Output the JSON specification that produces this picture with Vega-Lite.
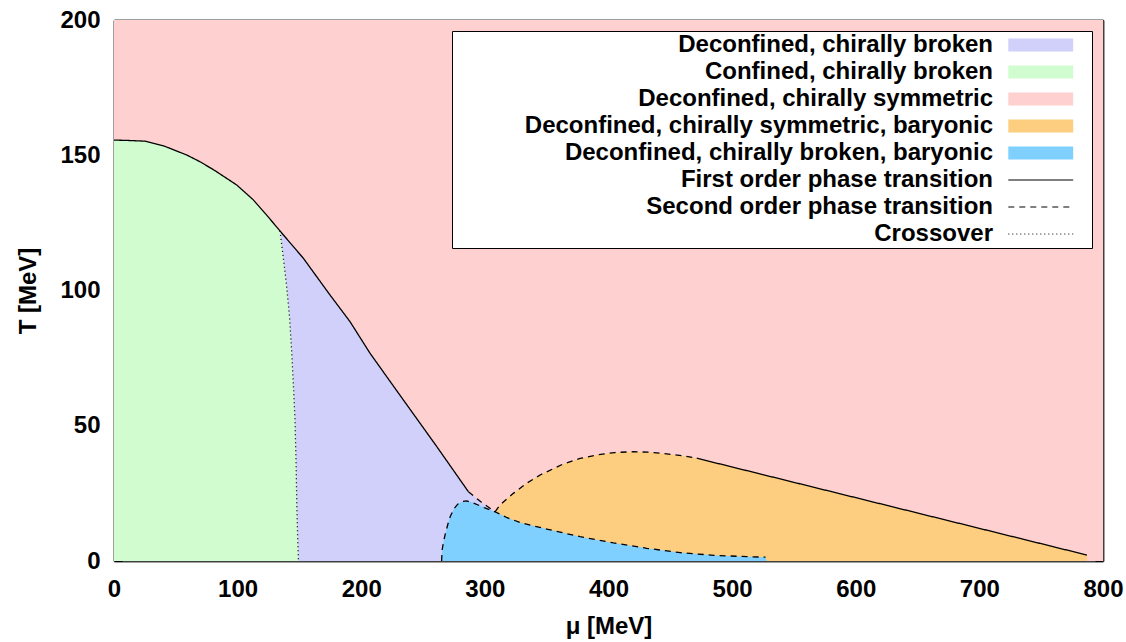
{
  "$schema": "https://vega.github.io/schema/vega-lite/v6.json",
  "width": 989,
  "height": 541,
  "autosize": "none",
  "padding": {"left": 114, "top": 20, "right": 23, "bottom": 81},
  "background": "white",
  "view": {"stroke": null},
  "config": {
    "font": "Liberation Sans",
    "axis": {
      "labelFont": "Liberation Sans", "labelFontSize": 24, "labelFontWeight": "bold", "labelColor": "black",
      "titleFont": "Liberation Sans", "titleFontSize": 24, "titleFontWeight": "bold", "titleColor": "black",
      "tickSize": -8, "tickColor": "black", "tickWidth": 1,
      "domainColor": "#404040", "domainWidth": 2,
      "grid": false, "zindex": 1, "labelFlush": false, "labelOverlap": false
    },
    "legend": {
      "title": null,
      "orient": "top-right",
      "offset": 11,
      "fillColor": "white",
      "strokeColor": "black",
      "padding": 2,
      "labelFont": "Liberation Sans",
      "labelFontSize": 24,
      "labelFontWeight": "bold",
      "labelColor": "black",
      "labelAlign": "right",
      "labelOffset": 515,
      "labelLimit": 0,
      "symbolSize": 484,
      "symbolStrokeWidth": 1.2,
      "symbolOpacity": 1,
      "rowPadding": 3
    }
  },
  "datasets": {
    "areas": [
      {"region": "Deconfined, chirally symmetric", "mu": 0, "T": 200},
      {"region": "Deconfined, chirally symmetric", "mu": 800, "T": 200},
      {"region": "Deconfined, chirally broken", "mu": 134.3, "T": 122},
      {"region": "Deconfined, chirally broken", "mu": 153.2, "T": 111.9},
      {"region": "Deconfined, chirally broken", "mu": 174.8, "T": 98.3},
      {"region": "Deconfined, chirally broken", "mu": 190.9, "T": 88.5},
      {"region": "Deconfined, chirally broken", "mu": 207.1, "T": 76.8},
      {"region": "Deconfined, chirally broken", "mu": 234.1, "T": 59.5},
      {"region": "Deconfined, chirally broken", "mu": 261.1, "T": 42.3},
      {"region": "Deconfined, chirally broken", "mu": 286.7, "T": 25.6},
      {"region": "Deconfined, chirally broken", "mu": 297, "T": 21.8},
      {"region": "Deconfined, chirally broken", "mu": 308.2, "T": 18.2},
      {"region": "Confined, chirally broken", "mu": 0, "T": 155.6},
      {"region": "Confined, chirally broken", "mu": 10, "T": 155.5},
      {"region": "Confined, chirally broken", "mu": 25, "T": 155.2},
      {"region": "Confined, chirally broken", "mu": 40, "T": 153.5},
      {"region": "Confined, chirally broken", "mu": 58.8, "T": 150.1},
      {"region": "Confined, chirally broken", "mu": 70, "T": 147.5},
      {"region": "Confined, chirally broken", "mu": 81.7, "T": 144.3},
      {"region": "Confined, chirally broken", "mu": 99.3, "T": 139},
      {"region": "Confined, chirally broken", "mu": 112.7, "T": 133.5},
      {"region": "Confined, chirally broken", "mu": 124, "T": 127.6},
      {"region": "Confined, chirally broken", "mu": 134.3, "T": 122},
      {"region": "Confined, chirally broken", "mu": 137, "T": 112},
      {"region": "Confined, chirally broken", "mu": 139.7, "T": 101.4},
      {"region": "Confined, chirally broken", "mu": 142, "T": 90},
      {"region": "Confined, chirally broken", "mu": 143.8, "T": 76.8},
      {"region": "Confined, chirally broken", "mu": 145.2, "T": 64},
      {"region": "Confined, chirally broken", "mu": 146.4, "T": 52.1},
      {"region": "Confined, chirally broken", "mu": 147.3, "T": 36},
      {"region": "Confined, chirally broken", "mu": 147.9, "T": 20},
      {"region": "Confined, chirally broken", "mu": 148.6, "T": 8},
      {"region": "Confined, chirally broken", "mu": 149.2, "T": 0},
      {"region": "Deconfined, chirally symmetric, baryonic", "mu": 308.2, "T": 18.2},
      {"region": "Deconfined, chirally symmetric, baryonic", "mu": 312.3, "T": 20.7},
      {"region": "Deconfined, chirally symmetric, baryonic", "mu": 323, "T": 25},
      {"region": "Deconfined, chirally symmetric, baryonic", "mu": 334, "T": 28.8},
      {"region": "Deconfined, chirally symmetric, baryonic", "mu": 344.7, "T": 31.8},
      {"region": "Deconfined, chirally symmetric, baryonic", "mu": 363.5, "T": 35.9},
      {"region": "Deconfined, chirally symmetric, baryonic", "mu": 377, "T": 37.9},
      {"region": "Deconfined, chirally symmetric, baryonic", "mu": 390.5, "T": 39.2},
      {"region": "Deconfined, chirally symmetric, baryonic", "mu": 405, "T": 40.1},
      {"region": "Deconfined, chirally symmetric, baryonic", "mu": 420, "T": 40.4},
      {"region": "Deconfined, chirally symmetric, baryonic", "mu": 434, "T": 40.2},
      {"region": "Deconfined, chirally symmetric, baryonic", "mu": 447, "T": 39.6},
      {"region": "Deconfined, chirally symmetric, baryonic", "mu": 460, "T": 38.9},
      {"region": "Deconfined, chirally symmetric, baryonic", "mu": 471.4, "T": 38},
      {"region": "Deconfined, chirally symmetric, baryonic", "mu": 787, "T": 2.2},
      {"region": "Deconfined, chirally broken, baryonic", "mu": 265, "T": 0},
      {"region": "Deconfined, chirally broken, baryonic", "mu": 265.4, "T": 4},
      {"region": "Deconfined, chirally broken, baryonic", "mu": 266.5, "T": 7},
      {"region": "Deconfined, chirally broken, baryonic", "mu": 268, "T": 10},
      {"region": "Deconfined, chirally broken, baryonic", "mu": 270, "T": 13.5},
      {"region": "Deconfined, chirally broken, baryonic", "mu": 272, "T": 16.5},
      {"region": "Deconfined, chirally broken, baryonic", "mu": 275, "T": 19.3},
      {"region": "Deconfined, chirally broken, baryonic", "mu": 278, "T": 21},
      {"region": "Deconfined, chirally broken, baryonic", "mu": 282, "T": 22},
      {"region": "Deconfined, chirally broken, baryonic", "mu": 285.3, "T": 22.2},
      {"region": "Deconfined, chirally broken, baryonic", "mu": 290, "T": 21.6},
      {"region": "Deconfined, chirally broken, baryonic", "mu": 295, "T": 20.6},
      {"region": "Deconfined, chirally broken, baryonic", "mu": 300, "T": 19.6},
      {"region": "Deconfined, chirally broken, baryonic", "mu": 308.2, "T": 18.2},
      {"region": "Deconfined, chirally broken, baryonic", "mu": 318, "T": 16},
      {"region": "Deconfined, chirally broken, baryonic", "mu": 330, "T": 14},
      {"region": "Deconfined, chirally broken, baryonic", "mu": 350, "T": 11.8},
      {"region": "Deconfined, chirally broken, baryonic", "mu": 377, "T": 9},
      {"region": "Deconfined, chirally broken, baryonic", "mu": 404, "T": 6.7},
      {"region": "Deconfined, chirally broken, baryonic", "mu": 431, "T": 4.7},
      {"region": "Deconfined, chirally broken, baryonic", "mu": 458, "T": 3.1},
      {"region": "Deconfined, chirally broken, baryonic", "mu": 485, "T": 2.1},
      {"region": "Deconfined, chirally broken, baryonic", "mu": 512, "T": 1.6},
      {"region": "Deconfined, chirally broken, baryonic", "mu": 527, "T": 1.4},
      {"region": "Deconfined, chirally broken, baryonic", "mu": 528, "T": 0}
    ],
    "lines": [
      {"seg": "A", "region": "First order phase transition", "mu": 0, "T": 155.6},
      {"seg": "A", "region": "First order phase transition", "mu": 10, "T": 155.5},
      {"seg": "A", "region": "First order phase transition", "mu": 25, "T": 155.2},
      {"seg": "A", "region": "First order phase transition", "mu": 40, "T": 153.5},
      {"seg": "A", "region": "First order phase transition", "mu": 58.8, "T": 150.1},
      {"seg": "A", "region": "First order phase transition", "mu": 70, "T": 147.5},
      {"seg": "A", "region": "First order phase transition", "mu": 81.7, "T": 144.3},
      {"seg": "A", "region": "First order phase transition", "mu": 99.3, "T": 139},
      {"seg": "A", "region": "First order phase transition", "mu": 112.7, "T": 133.5},
      {"seg": "A", "region": "First order phase transition", "mu": 124, "T": 127.6},
      {"seg": "A", "region": "First order phase transition", "mu": 134.3, "T": 122},
      {"seg": "A", "region": "First order phase transition", "mu": 153.2, "T": 111.9},
      {"seg": "A", "region": "First order phase transition", "mu": 174.8, "T": 98.3},
      {"seg": "A", "region": "First order phase transition", "mu": 190.9, "T": 88.5},
      {"seg": "A", "region": "First order phase transition", "mu": 207.1, "T": 76.8},
      {"seg": "A", "region": "First order phase transition", "mu": 234.1, "T": 59.5},
      {"seg": "A", "region": "First order phase transition", "mu": 261.1, "T": 42.3},
      {"seg": "A", "region": "First order phase transition", "mu": 286.7, "T": 25.6},
      {"seg": "B", "region": "Second order phase transition", "mu": 286.7, "T": 25.6},
      {"seg": "B", "region": "Second order phase transition", "mu": 297, "T": 21.8},
      {"seg": "B", "region": "Second order phase transition", "mu": 308.2, "T": 18.2},
      {"seg": "C", "region": "Second order phase transition", "mu": 265, "T": 0},
      {"seg": "C", "region": "Second order phase transition", "mu": 265.4, "T": 4},
      {"seg": "C", "region": "Second order phase transition", "mu": 266.5, "T": 7},
      {"seg": "C", "region": "Second order phase transition", "mu": 268, "T": 10},
      {"seg": "C", "region": "Second order phase transition", "mu": 270, "T": 13.5},
      {"seg": "C", "region": "Second order phase transition", "mu": 272, "T": 16.5},
      {"seg": "C", "region": "Second order phase transition", "mu": 275, "T": 19.3},
      {"seg": "C", "region": "Second order phase transition", "mu": 278, "T": 21},
      {"seg": "C", "region": "Second order phase transition", "mu": 282, "T": 22},
      {"seg": "C", "region": "Second order phase transition", "mu": 285.3, "T": 22.2},
      {"seg": "C", "region": "Second order phase transition", "mu": 290, "T": 21.6},
      {"seg": "C", "region": "Second order phase transition", "mu": 295, "T": 20.6},
      {"seg": "C", "region": "Second order phase transition", "mu": 300, "T": 19.6},
      {"seg": "C", "region": "Second order phase transition", "mu": 308.2, "T": 18.2},
      {"seg": "C", "region": "Second order phase transition", "mu": 318, "T": 16},
      {"seg": "C", "region": "Second order phase transition", "mu": 330, "T": 14},
      {"seg": "C", "region": "Second order phase transition", "mu": 350, "T": 11.8},
      {"seg": "C", "region": "Second order phase transition", "mu": 377, "T": 9},
      {"seg": "C", "region": "Second order phase transition", "mu": 404, "T": 6.7},
      {"seg": "C", "region": "Second order phase transition", "mu": 431, "T": 4.7},
      {"seg": "C", "region": "Second order phase transition", "mu": 458, "T": 3.1},
      {"seg": "C", "region": "Second order phase transition", "mu": 485, "T": 2.1},
      {"seg": "C", "region": "Second order phase transition", "mu": 512, "T": 1.6},
      {"seg": "C", "region": "Second order phase transition", "mu": 527, "T": 1.4},
      {"seg": "D", "region": "Second order phase transition", "mu": 308.2, "T": 18.2},
      {"seg": "D", "region": "Second order phase transition", "mu": 312.3, "T": 20.7},
      {"seg": "D", "region": "Second order phase transition", "mu": 323, "T": 25},
      {"seg": "D", "region": "Second order phase transition", "mu": 334, "T": 28.8},
      {"seg": "D", "region": "Second order phase transition", "mu": 344.7, "T": 31.8},
      {"seg": "D", "region": "Second order phase transition", "mu": 363.5, "T": 35.9},
      {"seg": "D", "region": "Second order phase transition", "mu": 377, "T": 37.9},
      {"seg": "D", "region": "Second order phase transition", "mu": 390.5, "T": 39.2},
      {"seg": "D", "region": "Second order phase transition", "mu": 405, "T": 40.1},
      {"seg": "D", "region": "Second order phase transition", "mu": 420, "T": 40.4},
      {"seg": "D", "region": "Second order phase transition", "mu": 434, "T": 40.2},
      {"seg": "D", "region": "Second order phase transition", "mu": 447, "T": 39.6},
      {"seg": "D", "region": "Second order phase transition", "mu": 460, "T": 38.9},
      {"seg": "D", "region": "Second order phase transition", "mu": 471.4, "T": 38},
      {"seg": "E", "region": "First order phase transition", "mu": 471.4, "T": 38},
      {"seg": "E", "region": "First order phase transition", "mu": 787, "T": 2.2},
      {"seg": "F", "region": "Crossover", "mu": 134.3, "T": 122},
      {"seg": "F", "region": "Crossover", "mu": 137, "T": 112},
      {"seg": "F", "region": "Crossover", "mu": 139.7, "T": 101.4},
      {"seg": "F", "region": "Crossover", "mu": 142, "T": 90},
      {"seg": "F", "region": "Crossover", "mu": 143.8, "T": 76.8},
      {"seg": "F", "region": "Crossover", "mu": 145.2, "T": 64},
      {"seg": "F", "region": "Crossover", "mu": 146.4, "T": 52.1},
      {"seg": "F", "region": "Crossover", "mu": 147.3, "T": 36},
      {"seg": "F", "region": "Crossover", "mu": 147.9, "T": 20},
      {"seg": "F", "region": "Crossover", "mu": 148.6, "T": 8},
      {"seg": "F", "region": "Crossover", "mu": 149.2, "T": 0}
    ]
  },
  "layer": [
    {
      "data": {"name": "areas"},
      "transform": [{"filter": "datum.region === 'Deconfined, chirally symmetric'"}],
      "mark": {"type": "area", "opacity": 1},
      "encoding": {
        "x": {"field": "mu", "type": "quantitative",
          "scale": {"domain": [0, 800], "nice": false, "zero": false},
          "axis": {"orient": "bottom", "values": [0, 100, 200, 300, 400, 500, 600, 700, 800], "labelPadding": 24, "title": "μ [MeV]", "titlePadding": 13}},
        "y": {"field": "T", "type": "quantitative", "stack": null,
          "scale": {"domain": [0, 200], "nice": false},
          "axis": {"orient": "left", "values": [0, 50, 100, 150, 200], "labelPadding": 22, "title": "T [MeV]", "titlePadding": 19}},
        "y2": {"datum": 0},
        "fill": {"field": "region", "type": "nominal",
          "scale": {
            "domain": ["Deconfined, chirally broken", "Confined, chirally broken", "Deconfined, chirally symmetric", "Deconfined, chirally symmetric, baryonic", "Deconfined, chirally broken, baryonic", "First order phase transition", "Second order phase transition", "Crossover"],
            "range": ["#d0d0fa", "#d0fcd0", "#ffd0d0", "#fdcd80", "#80d0ff", "transparent", "transparent", "transparent"]
          }
        }
      }
    },
    {
      "data": {"name": "areas"},
      "transform": [{"filter": "datum.region === 'Deconfined, chirally broken'"}],
      "mark": {"type": "area", "opacity": 1},
      "encoding": {
        "x": {"field": "mu", "type": "quantitative", "axis": null},
        "y": {"field": "T", "type": "quantitative", "stack": null, "axis": null},
        "y2": {"datum": 0},
        "fill": {"field": "region", "type": "nominal"}
      }
    },
    {
      "data": {"name": "areas"},
      "transform": [{"filter": "datum.region === 'Confined, chirally broken'"}],
      "mark": {"type": "area", "opacity": 1},
      "encoding": {
        "x": {"field": "mu", "type": "quantitative", "axis": null},
        "y": {"field": "T", "type": "quantitative", "stack": null, "axis": null},
        "y2": {"datum": 0},
        "fill": {"field": "region", "type": "nominal"}
      }
    },
    {
      "data": {"name": "areas"},
      "transform": [{"filter": "datum.region === 'Deconfined, chirally symmetric, baryonic'"}],
      "mark": {"type": "area", "opacity": 1},
      "encoding": {
        "x": {"field": "mu", "type": "quantitative", "axis": null},
        "y": {"field": "T", "type": "quantitative", "stack": null, "axis": null},
        "y2": {"datum": 0},
        "fill": {"field": "region", "type": "nominal"}
      }
    },
    {
      "data": {"name": "areas"},
      "transform": [{"filter": "datum.region === 'Deconfined, chirally broken, baryonic'"}],
      "mark": {"type": "area", "opacity": 1},
      "encoding": {
        "x": {"field": "mu", "type": "quantitative", "axis": null},
        "y": {"field": "T", "type": "quantitative", "stack": null, "axis": null},
        "y2": {"datum": 0},
        "fill": {"field": "region", "type": "nominal"}
      }
    },
    {
      "data": {"name": "lines"},
      "mark": {"type": "line", "opacity": 1, "strokeWidth": 1.3},
      "encoding": {
        "x": {"field": "mu", "type": "quantitative",
          "axis": {"orient": "top", "values": [0, 100, 200, 300, 400, 500, 600, 700, 800], "labels": false, "title": null}},
        "y": {"field": "T", "type": "quantitative",
          "axis": {"orient": "right", "values": [0, 50, 100, 150, 200], "labels": false, "title": null}},
        "detail": {"field": "seg", "type": "nominal"},
        "stroke": {"field": "region", "type": "nominal",
          "scale": {
            "domain": ["Deconfined, chirally broken", "Confined, chirally broken", "Deconfined, chirally symmetric", "Deconfined, chirally symmetric, baryonic", "Deconfined, chirally broken, baryonic", "First order phase transition", "Second order phase transition", "Crossover"],
            "range": ["transparent", "transparent", "transparent", "transparent", "transparent", "black", "black", "black"]
          }
        },
        "strokeDash": {"field": "region", "type": "nominal",
          "scale": {
            "domain": ["Deconfined, chirally broken", "Confined, chirally broken", "Deconfined, chirally symmetric", "Deconfined, chirally symmetric, baryonic", "Deconfined, chirally broken, baryonic", "First order phase transition", "Second order phase transition", "Crossover"],
            "range": [[1, 0], [1, 0], [1, 0], [1, 0], [1, 0], [1, 0], [6, 5], [1, 3]]
          }
        }
      }
    },
    {
      "data": {"name": "lines"},
      "mark": {"type": "point", "opacity": 0},
      "encoding": {
        "x": {"field": "mu", "type": "quantitative", "axis": null},
        "y": {"field": "T", "type": "quantitative", "axis": null},
        "shape": {"field": "region", "type": "nominal",
          "scale": {
            "domain": ["Deconfined, chirally broken", "Confined, chirally broken", "Deconfined, chirally symmetric", "Deconfined, chirally symmetric, baryonic", "Deconfined, chirally broken, baryonic", "First order phase transition", "Second order phase transition", "Crossover"],
            "range": ["M49.3,-0.6H55.2V0.6H49.3ZM56.5,0", "M49.3,-0.6H55.2V0.6H49.3ZM56.5,0", "M49.3,-0.6H55.2V0.6H49.3ZM56.5,0", "M49.3,-0.6H55.2V0.6H49.3ZM56.5,0", "M49.3,-0.6H55.2V0.6H49.3ZM56.5,0", "M49.3,0H55.2M56.5,0", "M49.3,0H55.2M56.5,0", "M49.3,0H55.2M56.5,0"]
          }
        }
      }
    }
  ],
  "resolve": {"axis": {"x": "independent", "y": "independent"}}
}
